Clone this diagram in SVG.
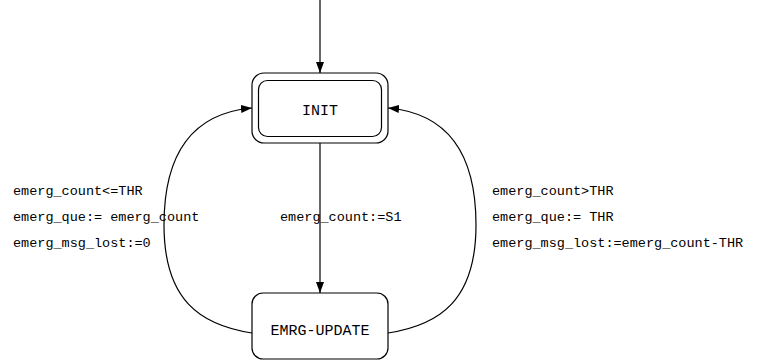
<svg xmlns="http://www.w3.org/2000/svg" width="764" height="362" viewBox="0 0 764 362">
  <defs>
    <marker id="arrow" viewBox="0 0 11 8" refX="11" refY="4" markerWidth="11" markerHeight="8" markerUnits="userSpaceOnUse" orient="auto">
      <path d="M0,0 L11,4 L0,8 Z" fill="#000"/>
    </marker>
    <style>
      .box { fill: #fff; stroke: #000; stroke-width: 1.2; }
      .edge { fill: none; stroke: #000; stroke-width: 1.2; marker-end: url(#arrow); }
      .label { font-family: "Liberation Mono", "DejaVu Sans Mono", monospace; font-size: 13.5px; fill: #000; }
      .name { font-family: "Liberation Mono", "DejaVu Sans Mono", monospace; font-size: 15px; fill: #000; text-anchor: middle; }
    </style>
  </defs>
  <rect width="764" height="362" fill="#fff"/>

  <g id="connectors">
    <path class="edge" d="M320,0 L320,73"/>
    <path class="edge" d="M320,143 L320,293"/>
    <path class="edge" d="M252,333 C200,325 164,300 164,225 C164,150 195,113 252,108"/>
    <path class="edge" d="M388,333 C440,325 476,300 476,225 C476,150 445,113 388,108"/>
  </g>

  <g id="init">
    <rect class="box" x="252" y="73" width="136" height="70" rx="12"/>
    <rect class="box" x="258.5" y="80.5" width="123" height="56" rx="9"/>
    <text class="name" x="320" y="115">INIT</text>
  </g>

  <g id="emrg-update">
    <rect class="box" x="252" y="293" width="136" height="66" rx="11"/>
    <text class="name" x="320" y="335">EMRG-UPDATE</text>
  </g>

  <g id="labels">
    <text class="label" x="13" y="195">emerg_count&lt;=THR</text>
    <text class="label" x="13" y="221">emerg_que:= emerg_count</text>
    <text class="label" x="13" y="247">emerg_msg_lost:=0</text>
    <text class="label" x="280" y="221">emerg_count:=S1</text>
    <text class="label" x="492" y="195">emerg_count&gt;THR</text>
    <text class="label" x="492" y="221">emerg_que:= THR</text>
    <text class="label" x="492" y="247">emerg_msg_lost:=emerg_count-THR</text>
  </g>
</svg>
